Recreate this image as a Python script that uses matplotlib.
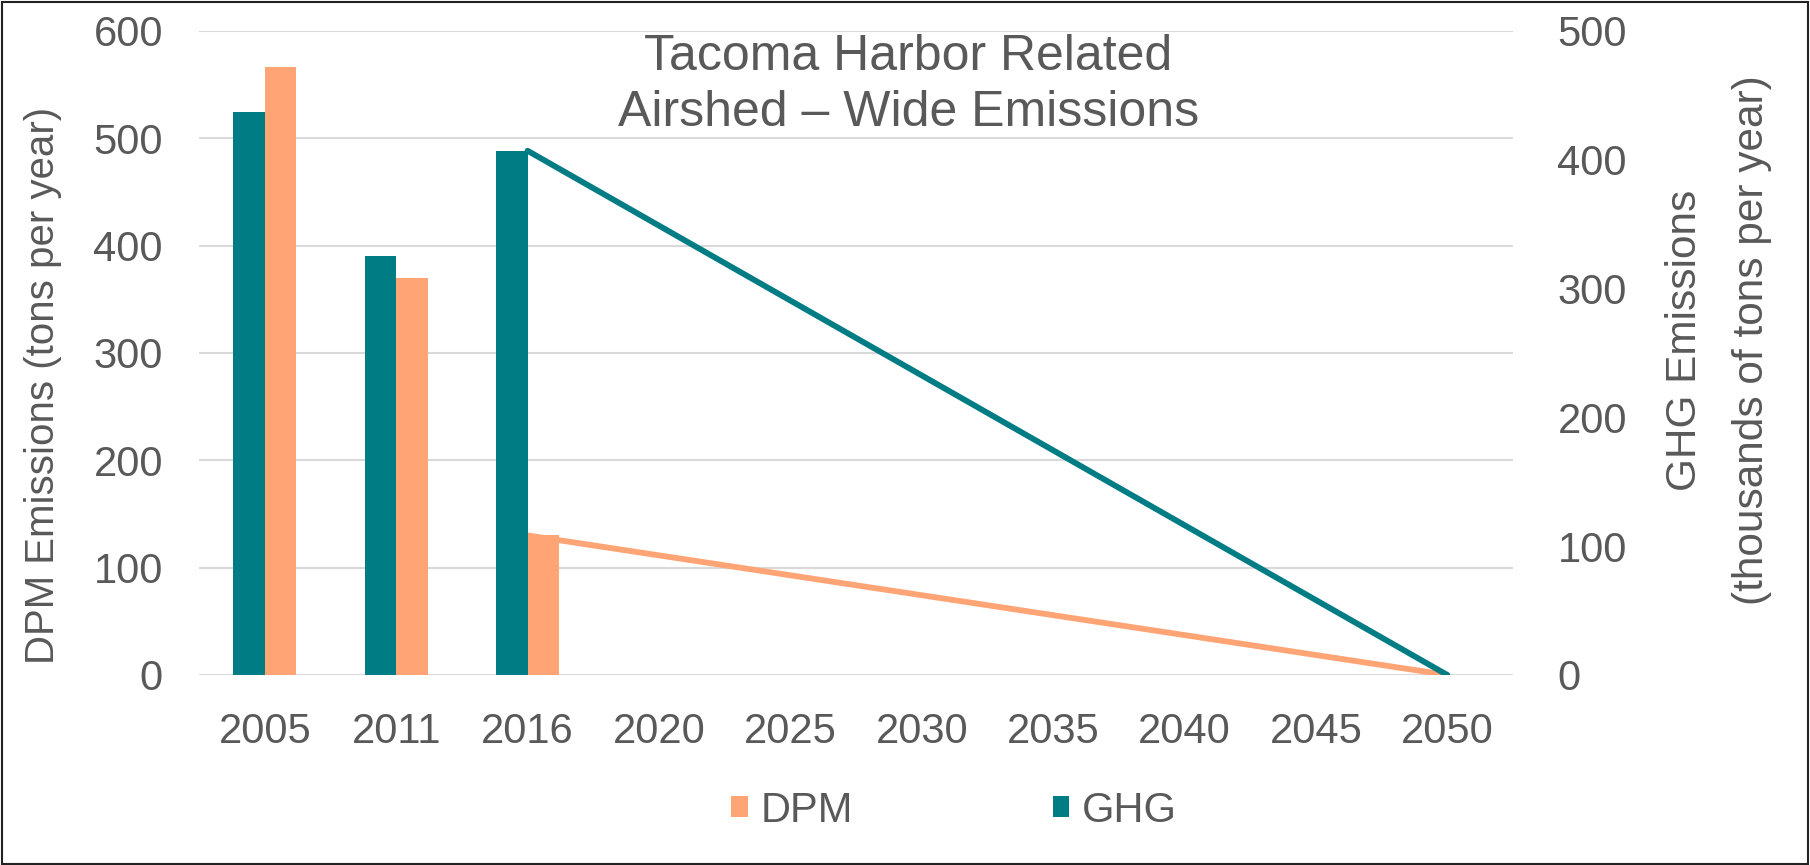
import matplotlib.pyplot as plt
import numpy as np
from matplotlib.patches import Patch, Rectangle

years = ["2005", "2011", "2016", "2020", "2025", "2030", "2035", "2040", "2045", "2050"]

# bars only exist for the first three years
bar_years = ["2005", "2011", "2016"]
dpm_bars = [566, 370, 130]   # tons per year (left axis)
ghg_bars = [437, 325, 407]   # thousands of tons per year (right axis)

# projected trend lines, 2016 -> 2050
line_years = ["2016", "2050"]
dpm_line = [130, 0]
ghg_line = [407, 0]

dpm_color = "#FFA474"
ghg_color = "#007C84"
text_color = "#595959"
grid_color = "#D9D9D9"

plt.rcParams["font.family"] = ["Liberation Sans", "DejaVu Sans"]

fig = plt.figure(figsize=(18.1, 8.65), dpi=100)
ax = fig.add_axes([0.11, 0.2197, 0.7259, 0.7445])
ax2 = ax.twinx()

x = np.arange(len(years))
bar_x = np.array([years.index(y) for y in bar_years])
line_x = np.array([years.index(y) for y in line_years])
w = 0.24

ax.bar(bar_x + w / 2, dpm_bars, width=w, color=dpm_color, zorder=2)
ax.plot(line_x, dpm_line, color=dpm_color, linewidth=4.2, solid_capstyle="round", zorder=3)

ax2.bar(bar_x - w / 2, ghg_bars, width=w, color=ghg_color, zorder=2)
ax2.plot(line_x, ghg_line, color=ghg_color, linewidth=4.2, solid_capstyle="round", zorder=3)

ax.set_xlim(-0.5, len(years) - 0.5)
ax.set_ylim(0, 600)
ax2.set_ylim(0, 500)
ax.set_yticks(np.arange(0, 601, 100))
ax2.set_yticks(np.arange(0, 501, 100))
ax.set_xticks(x)
ax.set_xticklabels(years)

ax.yaxis.grid(True, color=grid_color, linewidth=1.5, zorder=0)
ax.set_axisbelow(True)

for a in (ax, ax2):
    for s in a.spines.values():
        s.set_visible(False)

ax.tick_params(axis="y", length=0, pad=26, labelsize=30, labelcolor=text_color)
ax.tick_params(axis="x", length=0, pad=27, labelsize=30, labelcolor=text_color)
ax2.tick_params(axis="y", length=0, pad=32, labelsize=30, labelcolor=text_color)

ax.set_ylabel("DPM Emissions (tons per year)", fontsize=29, color=text_color)
ax.yaxis.set_label_coords(-0.104, 0.449)
ax2.set_ylabel("GHG Emissions\n(thousands of tons per year)", fontsize=30.5,
               color=text_color, rotation=90, linespacing=1.85)
ax2.yaxis.set_label_coords(1.116, 0.52)

fig.text(0.5017, 0.902, "Tacoma Harbor Related\nAirshed \u2013 Wide Emissions",
         ha="center", va="center", fontsize=36, color=text_color, linespacing=1.27)

handles = [Patch(facecolor=dpm_color, label="DPM"), Patch(facecolor=ghg_color, label="GHG")]
fig.legend(handles=handles, loc="center", bbox_to_anchor=(0.527, 0.063), ncol=2,
           frameon=False, fontsize=30, labelcolor=text_color, handlelength=0.4,
           handleheight=0.4, handletextpad=0.3, columnspacing=4.8)

fig.add_artist(Rectangle((0.001, 0.001), 0.998, 0.997, transform=fig.transFigure,
                         fill=False, edgecolor="#222222", linewidth=1.5))

fig.savefig("out.png", dpi=100)
